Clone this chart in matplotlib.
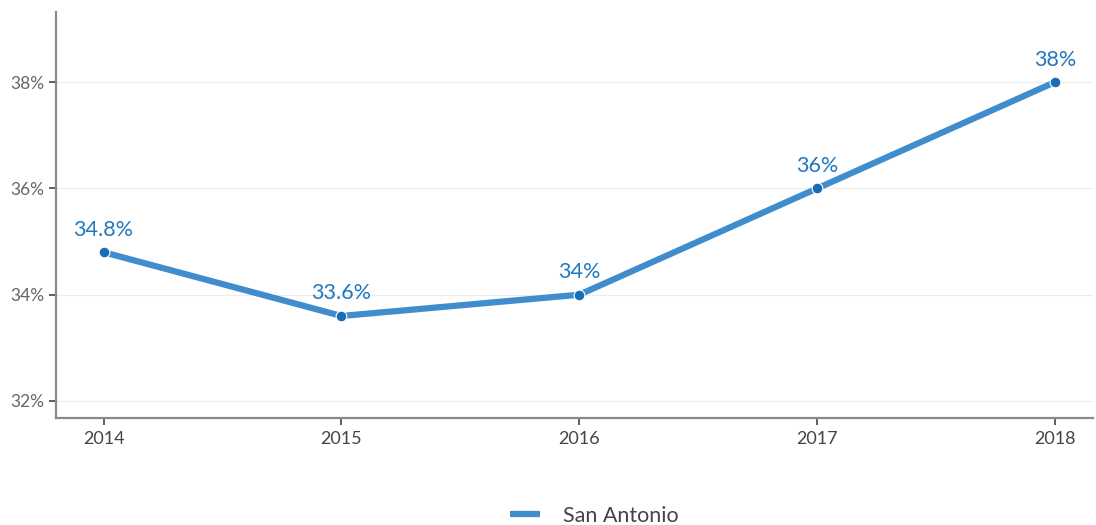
import matplotlib
matplotlib.use("Agg")
import matplotlib.pyplot as plt
from matplotlib.ticker import FuncFormatter

# -------------------------------------------------------
# DATA
# -------------------------------------------------------
years  = [2014, 2015, 2016, 2017, 2018]
values = [34.8, 33.6, 34.0, 36.0, 38.0]
labels = ["34.8%", "33.6%", "34%", "36%", "38%"]
series_name = "San Antonio"
y_ticks = [32, 34, 36, 38]

LINE_COLOR   = "#3f8dcc"
MARKER_COLOR = "#1a6db5"
TEXT_COLOR   = "#1f78c1"

plt.rcParams["font.family"] = ["Lato", "DejaVu Sans"]

fig = plt.figure(figsize=(10.96, 5.25), dpi=100)
ax = fig.add_axes([56/1096, 1 - 418/525, (1093 - 56)/1096, (418 - 12)/525])

ax.plot(years, values, color=LINE_COLOR, linewidth=4.5, solid_capstyle="butt",
        label=series_name, zorder=3)
ax.scatter(years, values, s=60, color=MARKER_COLOR, edgecolor="white",
           linewidth=0.8, zorder=4)

# value labels above each point
for x, y, t in zip(years, values, labels):
    ax.annotate(t, (x, y), xytext=(0, 9), textcoords="offset points",
                ha="center", va="bottom", color=TEXT_COLOR, fontsize=15.5)

ax.set_xlim(2013.80, 2018.16)
ax.set_ylim(31.68, 39.32)
ax.set_xticks(years)
ax.set_yticks(y_ticks)
ax.yaxis.set_major_formatter(FuncFormatter(lambda v, p: f"{v:.0f}%"))

ax.grid(axis="y", color="#ececec", linewidth=0.8)
ax.set_axisbelow(True)
for s in ["top", "right"]:
    ax.spines[s].set_visible(False)
for s in ["left", "bottom"]:
    ax.spines[s].set_color("#8a8a8a")
    ax.spines[s].set_linewidth(1.6)

ax.tick_params(axis="both", colors="#444444", length=5, width=1.2)
ax.tick_params(axis="y", labelcolor="#666666", labelsize=12.5)
ax.tick_params(axis="x", labelcolor="#444444", labelsize=13, pad=4)

fig.legend(loc="center", bbox_to_anchor=(594/1096, 1 - 516/525), frameon=False,
           fontsize=15.5, handlelength=1.4, handletextpad=1.07,
           labelcolor="#444444")

plt.savefig("out.png", dpi=100)
plt.close()
